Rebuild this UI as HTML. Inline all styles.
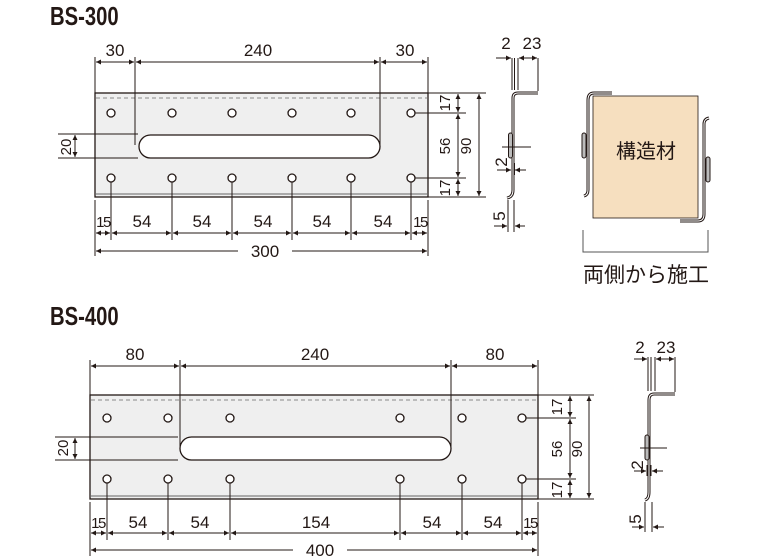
<!DOCTYPE html>
<html><head><meta charset="utf-8"><style>
body{margin:0;background:#fff}
svg{display:block}
text{font-family:"Liberation Sans","Noto Sans CJK JP",sans-serif;fill:#231815}
.t{font-size:17px;text-anchor:middle}
.s{font-size:15px;text-anchor:middle}
.n{font-size:15px;text-anchor:middle;letter-spacing:-1.5px}
.d{stroke:#231815;stroke-width:1;fill:none}
.a{stroke:#231815;stroke-width:1;fill:none;marker-start:url(#m);marker-end:url(#m)}
.a1{stroke:#231815;stroke-width:1;fill:none;marker-end:url(#m)}
.h{fill:#fff;stroke:#231815;stroke-width:1.3}
.ti{font-size:26px;font-weight:bold}
</style></head><body>
<svg width="760" height="560" viewBox="0 0 760 560" xmlns="http://www.w3.org/2000/svg">
<defs><marker id="m" viewBox="0 0 10 10" refX="10" refY="5" markerWidth="7" markerHeight="5" orient="auto-start-reverse" markerUnits="userSpaceOnUse"><path d="M0,0L10,5L0,10z" fill="#231815"/></marker></defs>

<text class="ti" transform="translate(50,25) scale(0.78,1)">BS-300</text>
<text class="ti" transform="translate(50,325) scale(0.78,1)">BS-400</text>

<!-- BS-300 plate -->
<rect x="95" y="93" width="333" height="104" fill="#efefef" stroke="#231815" stroke-width="1.3"/>
<line x1="96" y1="98" x2="427" y2="98" stroke="#888" stroke-dasharray="4,3"/>
<line x1="95" y1="194" x2="428" y2="194" stroke="#666"/>
<rect x="139" y="135" width="241" height="23" rx="11.5" fill="#fff" stroke="#231815" stroke-width="1.3"/>
<g class="h"><circle cx="111" cy="113" r="4"/><circle cx="172" cy="113" r="4"/><circle cx="232" cy="113" r="4"/><circle cx="292" cy="113" r="4"/><circle cx="351" cy="113" r="4"/><circle cx="411" cy="113" r="4"/>
<circle cx="111" cy="178" r="4"/><circle cx="172" cy="178" r="4"/><circle cx="232" cy="178" r="4"/><circle cx="292" cy="178" r="4"/><circle cx="351" cy="178" r="4"/><circle cx="411" cy="178" r="4"/></g>
<path class="d" d="M95,57V93M135,57V145M380,57V145M428,57V93"/>
<line class="a" x1="96" y1="62" x2="134" y2="62"/><line class="a" x1="136" y1="62" x2="379" y2="62"/><line class="a" x1="381" y1="62" x2="427" y2="62"/>
<text class="t" x="115" y="56">30</text><text class="t" x="258" y="56">240</text><text class="t" x="405" y="56">30</text>
<path class="d" d="M58,134H138M58,158H138"/>
<line class="a" x1="75" y1="135" x2="75" y2="157"/>
<text class="s" transform="translate(66,147) rotate(-90)" y="5">20</text>
<path class="d" d="M415,113H466M415,178H466M428,93H486M428,197H486"/>
<line class="a" x1="458" y1="94" x2="458" y2="112"/><line class="a" x1="458" y1="114" x2="458" y2="177"/><line class="a" x1="458" y1="179" x2="458" y2="196"/>
<line class="a" x1="479" y1="94" x2="479" y2="196"/>
<text class="s" transform="translate(445,103) rotate(-90)" y="5">17</text>
<text class="s" transform="translate(445,146) rotate(-90)" y="5">56</text>
<text class="s" transform="translate(466,146) rotate(-90)" y="5">90</text>
<text class="s" transform="translate(445,188) rotate(-90)" y="5">17</text>
<path class="d" d="M95,200V256M111,182V240M172,182V240M232,182V240M292,182V240M351,182V240M411,182V240M428,200V256"/>
<g><line class="a" x1="96" y1="233" x2="110" y2="233"/><line class="a" x1="112" y1="233" x2="171" y2="233"/><line class="a" x1="173" y1="233" x2="231" y2="233"/><line class="a" x1="233" y1="233" x2="291" y2="233"/><line class="a" x1="293" y1="233" x2="350" y2="233"/><line class="a" x1="352" y1="233" x2="410" y2="233"/><line class="a" x1="412" y1="233" x2="427" y2="233"/></g>
<text class="n" x="103" y="227">15</text>
<text class="t" x="142" y="227">54</text><text class="t" x="202" y="227">54</text><text class="t" x="263" y="227">54</text><text class="t" x="322" y="227">54</text><text class="t" x="383" y="227">54</text>
<text class="n" x="420" y="227">15</text>
<line class="a1" x1="238" y1="251" x2="96" y2="251"/><line class="a1" x1="292" y1="251" x2="427" y2="251"/>
<text class="t" x="265" y="257">300</text>

<!-- BS-300 side profile -->
<path d="M507,198Q513,197 513,190V98Q513,93 518,93H538" fill="none" stroke="#231815" stroke-width="3"/>
<path d="M507,198Q513,197 513,190V98Q513,93 518,93H538" fill="none" stroke="#fff" stroke-width="1"/>
<rect x="508.5" y="133" width="4" height="25" rx="2" fill="#bbb" stroke="#231815"/>
<path class="d" d="M502,147H531M512,58V90M514.5,58V90M518,58V90M538,58V91M512,163V175M514.5,163V175M508,200V232M514,200V232"/>
<text class="t" x="506" y="49">2</text><text class="t" x="532" y="49">23</text>
<line class="a1" x1="496" y1="58" x2="511" y2="58"/><line class="a1" x1="537" y1="58" x2="519" y2="58"/><line class="a1" x1="519" y1="58" x2="537" y2="58"/>
<text class="t" transform="translate(501,162) rotate(-90)" y="6">2</text>
<line class="a1" x1="497" y1="170" x2="511" y2="170"/><line class="a1" x1="526" y1="170" x2="515" y2="170"/>
<text class="t" transform="translate(499,216) rotate(-90)" y="6">5</text>
<line class="a1" x1="494" y1="226" x2="507" y2="226"/><line class="a1" x1="525" y1="226" x2="515" y2="226"/>

<!-- pictogram -->
<rect x="593" y="96" width="105" height="122" fill="#f6dfbf" stroke="#231815" stroke-width="0.8"/>
<path d="M584,196Q588,195 588,190V100Q588,93 594,93H612" fill="none" stroke="#231815" stroke-width="3"/>
<path d="M584,196Q588,195 588,190V100Q588,93 594,93H612" fill="none" stroke="#fff" stroke-width="1"/>
<rect x="582" y="133" width="4" height="25" rx="2" fill="#bbb" stroke="#231815"/>
<path d="M709,118Q704,119 704,124V214Q704,221 698,221H680" fill="none" stroke="#231815" stroke-width="3"/>
<path d="M709,118Q704,119 704,124V214Q704,221 698,221H680" fill="none" stroke="#fff" stroke-width="1"/>
<rect x="706" y="157" width="4" height="25" rx="2" fill="#bbb" stroke="#231815"/>
<text x="646" y="158" style="font-size:20px;text-anchor:middle">構造材</text>
<path d="M583,230V252H708V230" fill="none" stroke="#555"/>
<text x="646" y="282" style="font-size:21px;text-anchor:middle">両側から施工</text>

<!-- BS-400 plate -->
<rect x="90" y="395" width="448" height="104" fill="#efefef" stroke="#231815" stroke-width="1.3"/>
<line x1="91" y1="400" x2="537" y2="400" stroke="#888" stroke-dasharray="4,3"/>
<line x1="90" y1="496" x2="538" y2="496" stroke="#666"/>
<rect x="180" y="437" width="271" height="23" rx="11.5" fill="#fff" stroke="#231815" stroke-width="1.3"/>
<g class="h"><circle cx="107" cy="418" r="4"/><circle cx="168" cy="418" r="4"/><circle cx="230" cy="418" r="4"/><circle cx="400" cy="418" r="4"/><circle cx="462" cy="418" r="4"/><circle cx="522" cy="418" r="4"/>
<circle cx="107" cy="479" r="4"/><circle cx="168" cy="479" r="4"/><circle cx="230" cy="479" r="4"/><circle cx="400" cy="479" r="4"/><circle cx="462" cy="479" r="4"/><circle cx="522" cy="479" r="4"/></g>
<path class="d" d="M90,360V395M180,360V448M451,360V448M538,360V395"/>
<line class="a" x1="91" y1="366" x2="179" y2="366"/><line class="a" x1="181" y1="366" x2="450" y2="366"/><line class="a" x1="452" y1="366" x2="537" y2="366"/>
<text class="t" x="135" y="360">80</text><text class="t" x="315" y="360">240</text><text class="t" x="495" y="360">80</text>
<path class="d" d="M55,437H178M55,460H178"/>
<line class="a" x1="75" y1="438" x2="75" y2="459"/>
<text class="s" transform="translate(63,448) rotate(-90)" y="5">20</text>
<path class="d" d="M526,418H576M526,479H576M538,395H594M538,499H594"/>
<line class="a" x1="570" y1="396" x2="570" y2="417"/><line class="a" x1="570" y1="419" x2="570" y2="478"/><line class="a" x1="570" y1="480" x2="570" y2="498"/>
<line class="a" x1="589" y1="396" x2="589" y2="498"/>
<text class="s" transform="translate(557,407) rotate(-90)" y="5">17</text>
<text class="s" transform="translate(557,449) rotate(-90)" y="5">56</text>
<text class="s" transform="translate(577,449) rotate(-90)" y="5">90</text>
<text class="s" transform="translate(557,490) rotate(-90)" y="5">17</text>
<path class="d" d="M90,502V556M107,483V540M168,483V540M230,483V540M400,483V540M462,483V540M522,483V540M538,502V556"/>
<line class="a" x1="91" y1="533" x2="106" y2="533"/><line class="a" x1="108" y1="533" x2="167" y2="533"/><line class="a" x1="169" y1="533" x2="229" y2="533"/><line class="a" x1="231" y1="533" x2="399" y2="533"/><line class="a" x1="401" y1="533" x2="461" y2="533"/><line class="a" x1="463" y1="533" x2="521" y2="533"/><line class="a" x1="523" y1="533" x2="537" y2="533"/>
<text class="n" x="98" y="528">15</text>
<text class="t" x="138" y="528">54</text><text class="t" x="200" y="528">54</text><text class="t" x="316" y="528">154</text><text class="t" x="432" y="528">54</text><text class="t" x="493" y="528">54</text>
<text class="n" x="530" y="528">15</text>
<line class="a1" x1="293" y1="550" x2="91" y2="550"/><line class="a1" x1="347" y1="550" x2="537" y2="550"/>
<text class="t" x="320" y="556">400</text>

<!-- BS-400 side -->
<path d="M645,500Q649,499 649,492V400Q649,394 654,394H675" fill="none" stroke="#231815" stroke-width="3"/>
<path d="M645,500Q649,499 649,492V400Q649,394 654,394H675" fill="none" stroke="#fff" stroke-width="1"/>
<rect x="645" y="435" width="4" height="25" rx="2" fill="#bbb" stroke="#231815"/>
<path class="d" d="M640,448H667M648,357V391M651,357V391M655,357V391M675,357V392M647,465V476M651,465V476M645,502V532M652,502V532"/>
<text class="t" x="640" y="353">2</text><text class="t" x="666" y="353">23</text>
<line class="a1" x1="634" y1="359" x2="647" y2="359"/><line class="a1" x1="656" y1="359" x2="674" y2="359"/><line class="a1" x1="674" y1="359" x2="656" y2="359"/>
<text class="t" transform="translate(637,465) rotate(-90)" y="6">2</text>
<line class="a1" x1="634" y1="471" x2="646" y2="471"/><line class="a1" x1="663" y1="471" x2="652" y2="471"/>
<text class="t" transform="translate(635,519) rotate(-90)" y="6">5</text>
<line class="a1" x1="632" y1="527" x2="644" y2="527"/><line class="a1" x1="664" y1="527" x2="653" y2="527"/>
</svg>
</body></html>
